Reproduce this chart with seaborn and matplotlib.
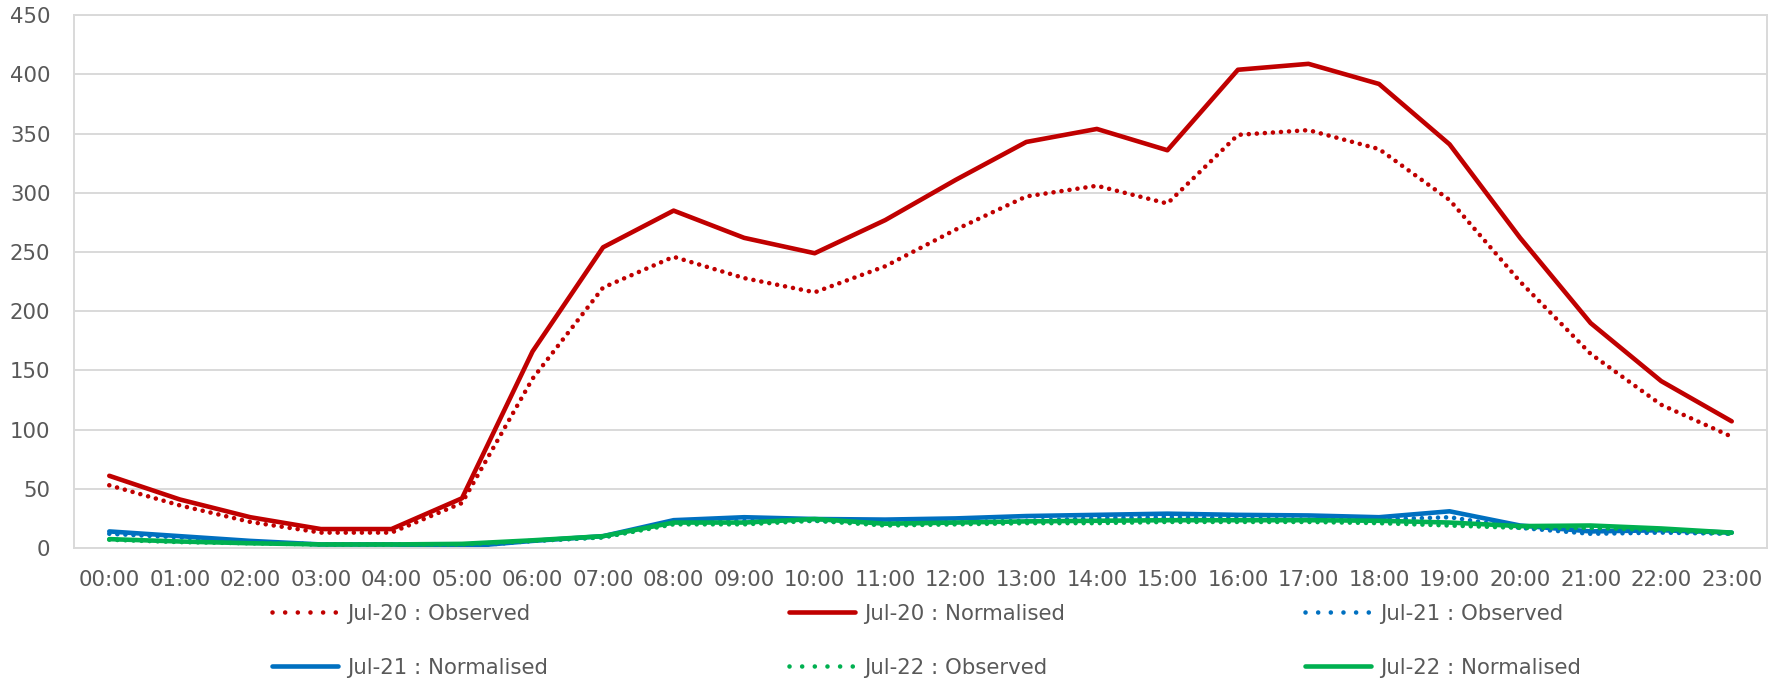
import matplotlib
matplotlib.use("Agg")
import matplotlib.pyplot as plt
from matplotlib.lines import Line2D
import seaborn as sns
import pandas as pd

hours = [f"{h:02d}:00" for h in range(24)]
jul20_observed = [53, 36, 22, 13, 13, 38, 143, 220, 246, 228, 216, 238, 269, 297, 306, 291, 349, 353, 337, 294, 225, 164, 121, 94]
jul20_normalised = [61, 41, 26, 16, 16, 42, 166, 254, 285, 262, 249, 277, 311, 343, 354, 336, 404, 409, 392, 341, 262, 190, 141, 107]
jul21_observed = [12, 9, 5, 3, 3, 1, 6, 9, 21, 23, 23, 21, 22, 23, 25, 26, 25, 24, 24, 26, 17, 12, 13, 12]
jul21_normalised = [14, 10, 6, 3, 3, 1, 6, 10, 23.5, 26, 24.5, 24, 25, 27, 28, 29, 28, 27.5, 26, 31, 19, 14, 15, 13]
jul22_observed = [7, 5, 4, 3, 3, 3, 6, 9, 20, 20, 23, 19, 20, 21, 21, 22, 22, 22, 21, 19, 17, 17, 15, 12]
jul22_normalised = [7.5, 5.5, 4, 3, 3, 3.5, 6.5, 10, 21.5, 21.5, 24.5, 20.5, 21.5, 22.5, 23, 23.5, 23.5, 23.5, 23, 21.5, 18.5, 19, 16.5, 13]

series_names = ["Jul-20 : Observed", "Jul-20 : Normalised",
                "Jul-21 : Observed", "Jul-21 : Normalised",
                "Jul-22 : Observed", "Jul-22 : Normalised"]
series_values = [jul20_observed, jul20_normalised, jul21_observed,
                 jul21_normalised, jul22_observed, jul22_normalised]
colors = ["#C00000", "#C00000", "#0070C0", "#0070C0", "#00B050", "#00B050"]
dotted = [True, False, True, False, True, False]

sns.set_theme(style="white")
plt.rcParams["font.family"] = ["DejaVu Sans"]
TXT = "#595959"
GRID = "#D9D9D9"
FS = 15.3

fig = plt.figure(figsize=(17.79, 6.83), dpi=100)
ax = fig.add_axes([74/1779, 1-548/683, (1767-74)/1779, (548-15.3)/683])

LW = 3.3
for name, vals, c, dt in zip(series_names, series_values, colors, dotted):
    df = pd.DataFrame({"hour": hours, "value": vals})
    if dt:
        sns.lineplot(data=df, x="hour", y="value", ax=ax, color=c, lw=LW,
                     linestyle=(0, (0.01, 1.75)), dash_capstyle="round",
                     solid_capstyle="round", sort=False)
    else:
        sns.lineplot(data=df, x="hour", y="value", ax=ax, color=c, lw=LW,
                     solid_capstyle="round", solid_joinstyle="round", sort=False)

ax.set_xlim(-0.5, 23.5)
ax.set_ylim(0, 450)
ax.set_yticks(range(0, 451, 50))
ax.set_xlabel("")
ax.set_ylabel("")
ax.grid(axis="y", color=GRID, lw=1.4)
ax.set_axisbelow(True)
for s in ax.spines.values():
    s.set_color(GRID)
    s.set_linewidth(1.4)
    s.set_visible(True)
ax.tick_params(axis="x", length=0, pad=16, labelsize=FS, labelcolor=TXT)
ax.tick_params(axis="y", length=0, pad=17, labelsize=FS, labelcolor=TXT)
if ax.get_legend():
    ax.get_legend().remove()

handles = []
for name, c, dt in zip(series_names, colors, dotted):
    if dt:
        h = Line2D([], [], color=c, lw=LW, linestyle=(0, (0.01, 2.75)),
                   dash_capstyle="round")
    else:
        h = Line2D([], [], color=c, lw=LW, solid_capstyle="round")
    handles.append(h)

col_x = [272, 789, 1305]
for i, x in enumerate(col_x):
    idx = [i, i + 3]
    fig.legend([handles[j] for j in idx], [series_names[j] for j in idx],
               loc="center left", bbox_to_anchor=(x/1779, 1-640.5/683),
               frameon=False, fontsize=FS, labelcolor=TXT, borderpad=0,
               borderaxespad=0, handlelength=3.1, handletextpad=0.45,
               labelspacing=1.6)

fig.savefig("out.png", dpi=100)
